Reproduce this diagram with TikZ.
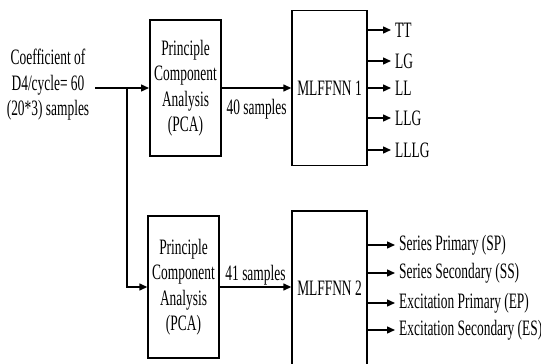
\documentclass[tikz,border=0pt]{standalone}
\usepackage{fontspec}
\setmainfont{Liberation Serif}[FakeStretch=0.61]
\usetikzlibrary{arrows.meta}

\tikzset{
	blkdiag/.style={
			x=1pt, y=-1pt,
			every node/.style={font=\fontsize{22}{25.5}\selectfont, inner sep=2pt},
			block/.style={draw, line width=1.4pt, align=center, inner sep=1pt},
			conn/.style={line width=1.4pt, -{Triangle[length=8pt,width=7pt]}},
			outlbl/.style={anchor=west, inner xsep=4pt},
			slabel/.style={midway, inner sep=1pt},
		}
}

\begin{document}
\begin{tikzpicture}[blkdiag]
		\clip (0,0) rectangle (541,364);
		% input text and branch point
		\node[align=center] (coef) at (48,85) {Coefficient of\\D4/cycle= 60\\(20*3) samples};
		\coordinate (src) at (95,88);
		\coordinate (br) at (127,88);
		% blocks
		\node[block, line width=2pt, minimum width=71pt, minimum height=136pt] (pca1) at (185.5,88) {Principle\\Component\\Analysis\\(PCA)};
		\node[block, minimum width=71pt, minimum height=142pt] (pca2) at (183.5,287) {Principle\\Component\\Analysis\\(PCA)};
		\node[block, minimum width=75pt, minimum height=155pt] (mlp1) at (329.5,88) {MLFFNN 1};
		\node[block, minimum width=75pt, minimum height=154pt] (mlp2) at (329.5,288) {MLFFNN 2};
		% connectors
		\draw[conn] (src) -- (pca1.west);
		\draw[conn] (br) |- (pca2.west);
		\draw[conn] (pca1.east) -- node[slabel, below=10pt] (l40) {40 samples} (mlp1.west);
		\draw[conn] (pca2.east) -- node[slabel, above=0pt] (l41) {41 samples} (pca2.east -| mlp2.west);
		% outputs
		\foreach \y/\t [count=\i] in {30/TT, 61/LG, 88/LL, 118/LLG, 150/LLLG} {
				\node[outlbl] (a\i) at (391,\y) {\t};
				\draw[conn] (mlp1.east |- a\i.west) -- (a\i.west);
			}
		\foreach \y/\t [count=\i] in {245/{Series Primary (SP)}, 273/{Series Secondary (SS)}, 303/{Excitation Primary (EP)}, 330/{Excitation Secondary (ES)}} {
				\node[outlbl] (b\i) at (395,\y) {\t};
				\draw[conn] (mlp2.east |- b\i.west) -- (b\i.west);
			}
	\end{tikzpicture}
\end{document}
